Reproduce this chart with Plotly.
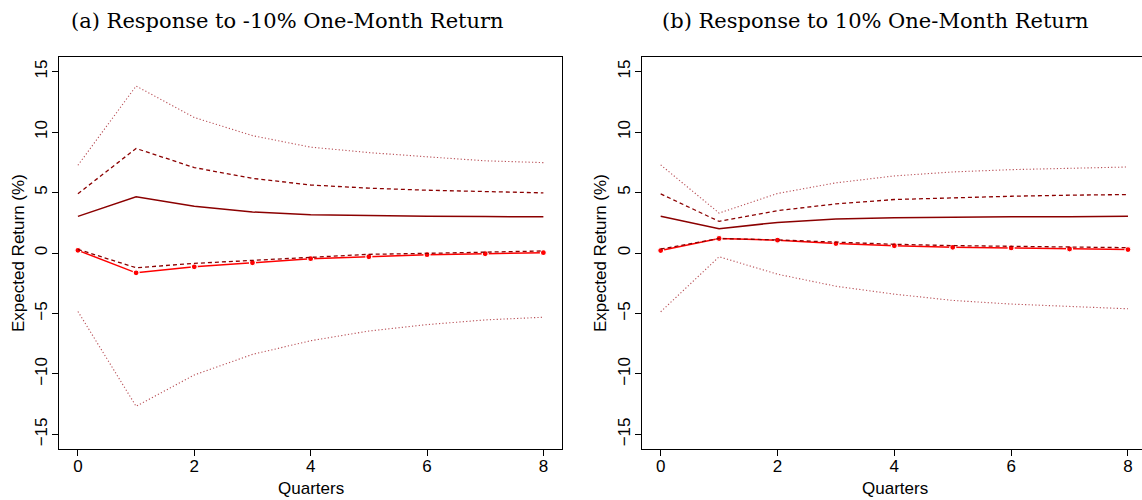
import plotly.graph_objects as go

W, H = 1142, 500

quarters = [0, 1, 2, 3, 4, 5, 6, 7, 8]
x_tick_vals = [0, 2, 4, 6, 8]
y_tick_vals = [-15, -10, -5, 0, 5, 10, 15]
y_tick_text = ["\u221215", "\u221210", "\u22125", "0", "5", "10", "15"]

titles = ["(a) Response to -10% One-Month Return", "(b) Response to 10% One-Month Return"]
x_label = "Quarters"
y_label = "Expected Return (%)"

# Panel (a): response to -10% one-month return
a_upper95 = [7.25, 13.8, 11.2, 9.7, 8.75, 8.3, 7.95, 7.62, 7.47]
a_upper68 = [4.9, 8.64, 7.06, 6.17, 5.62, 5.36, 5.19, 5.08, 4.97]
a_median = [3.03, 4.64, 3.86, 3.39, 3.17, 3.08, 3.03, 3.01, 3.0]
a_lower68 = [0.3, -1.22, -0.86, -0.62, -0.36, -0.11, -0.03, 0.08, 0.17]
a_point = [0.22, -1.64, -1.14, -0.81, -0.47, -0.31, -0.14, -0.06, 0.03]
a_lower95 = [-4.83, -12.67, -10.08, -8.38, -7.25, -6.45, -5.92, -5.53, -5.31]

# Panel (b): response to 10% one-month return
b_upper95 = [7.28, 3.3, 4.92, 5.8, 6.37, 6.7, 6.89, 7.03, 7.11]
b_upper68 = [4.89, 2.61, 3.5, 4.06, 4.42, 4.58, 4.69, 4.78, 4.83]
b_median = [3.03, 2.0, 2.53, 2.81, 2.92, 2.97, 2.99, 3.0, 3.03]
b_lower68 = [0.33, 1.2, 1.08, 0.89, 0.72, 0.61, 0.56, 0.5, 0.44]
b_point = [0.2, 1.2, 1.06, 0.78, 0.6, 0.47, 0.42, 0.33, 0.28]
b_lower95 = [-4.86, -0.31, -1.75, -2.75, -3.4, -3.92, -4.22, -4.44, -4.61]

DARK = "#8B0000"
DARK_DOT = "rgba(160,20,30,0.75)"
RED = "#FF0000"
DOT = "1.2px,2.2px"
DASH = "4px,3px"

fig = go.Figure()

def add_panel(xa, ya, up95, up68, med, lo68, pt, lo95):
    common = dict(x=quarters, xaxis=xa, yaxis=ya, showlegend=False, hoverinfo="skip")
    fig.add_trace(go.Scatter(y=up95, mode="lines", line=dict(color=DARK_DOT, width=1.1, dash=DOT), **common))
    fig.add_trace(go.Scatter(y=lo95, mode="lines", line=dict(color=DARK_DOT, width=1.1, dash=DOT), **common))
    fig.add_trace(go.Scatter(y=up68, mode="lines", line=dict(color=DARK, width=1.3, dash=DASH), **common))
    fig.add_trace(go.Scatter(y=med, mode="lines", line=dict(color=DARK, width=1.5), **common))
    fig.add_trace(go.Scatter(y=pt, mode="lines+markers", line=dict(color=RED, width=1.5),
                             marker=dict(color=RED, size=6, line=dict(color="white", width=1.2)), **common))
    fig.add_trace(go.Scatter(y=lo68, mode="lines", line=dict(color=DARK, width=1.3, dash=DASH), **common))

add_panel("x", "y", a_upper95, a_upper68, a_median, a_lower68, a_point, a_lower95)
add_panel("x2", "y2", b_upper95, b_upper68, b_median, b_lower68, b_point, b_lower95)

def px(v):
    return v / W

def py(v):
    return 1 - v / H

tick_font = dict(family="Liberation Sans, Arial, sans-serif", size=17, color="black")

xbase = dict(tickvals=x_tick_vals, ticks="outside", ticklen=6, tickwidth=1.2, tickcolor="black",
             showline=True, linecolor="black", linewidth=1.3, mirror=True, showgrid=False,
             zeroline=False, tickfont=tick_font, fixedrange=True, ticklabelstandoff=-5)
ybase = dict(tickvals=y_tick_vals, ticktext=y_tick_text, ticks="outside", ticklen=6, tickwidth=1.2,
             tickcolor="black", showline=True, linecolor="black", linewidth=1.3, showgrid=False,
             zeroline=False, tickfont=tick_font, tickangle=-90, range=[-16.2, 16.2], fixedrange=True,
             ticklabelstandoff=-2)

ydom = [py(449), py(57)]

fig.update_layout(
    width=W, height=H,
    margin=dict(l=0, r=0, t=0, b=0),
    paper_bgcolor="white", plot_bgcolor="white",
    xaxis=dict(domain=[px(59.3), px(562)], range=[-0.32, 8.32], anchor="y", **xbase),
    yaxis=dict(domain=ydom, anchor="x", mirror=True, **ybase),
    xaxis2=dict(domain=[px(642), 1.0], range=[-0.32, 8.24], anchor="y2", **xbase),
    yaxis2=dict(domain=ydom, anchor="x2", mirror=False, **ybase),
)

title_font = dict(family="DejaVu Serif, serif", size=21, color="black")
label_font = dict(family="Liberation Sans, Arial, sans-serif", size=17, color="black")

ann = [
    dict(text=titles[0], x=px(287), y=py(21), font=title_font),
    dict(text=titles[1], x=px(875), y=py(21), font=title_font),
    dict(text=x_label, x=px(311), y=py(488), font=label_font),
    dict(text=x_label, x=px(895), y=py(488), font=label_font),
    dict(text=y_label, x=px(18), y=py(253), font=label_font, textangle=-90),
    dict(text=y_label, x=px(600), y=py(253), font=label_font, textangle=-90),
]
for a in ann:
    fig.add_annotation(xref="paper", yref="paper", showarrow=False, xanchor="center", yanchor="middle", **a)

fig.write_html("out.html", config={"displayModeBar": False},
               post_script="document.body.style.margin='0px';document.body.style.overflow='hidden';")
